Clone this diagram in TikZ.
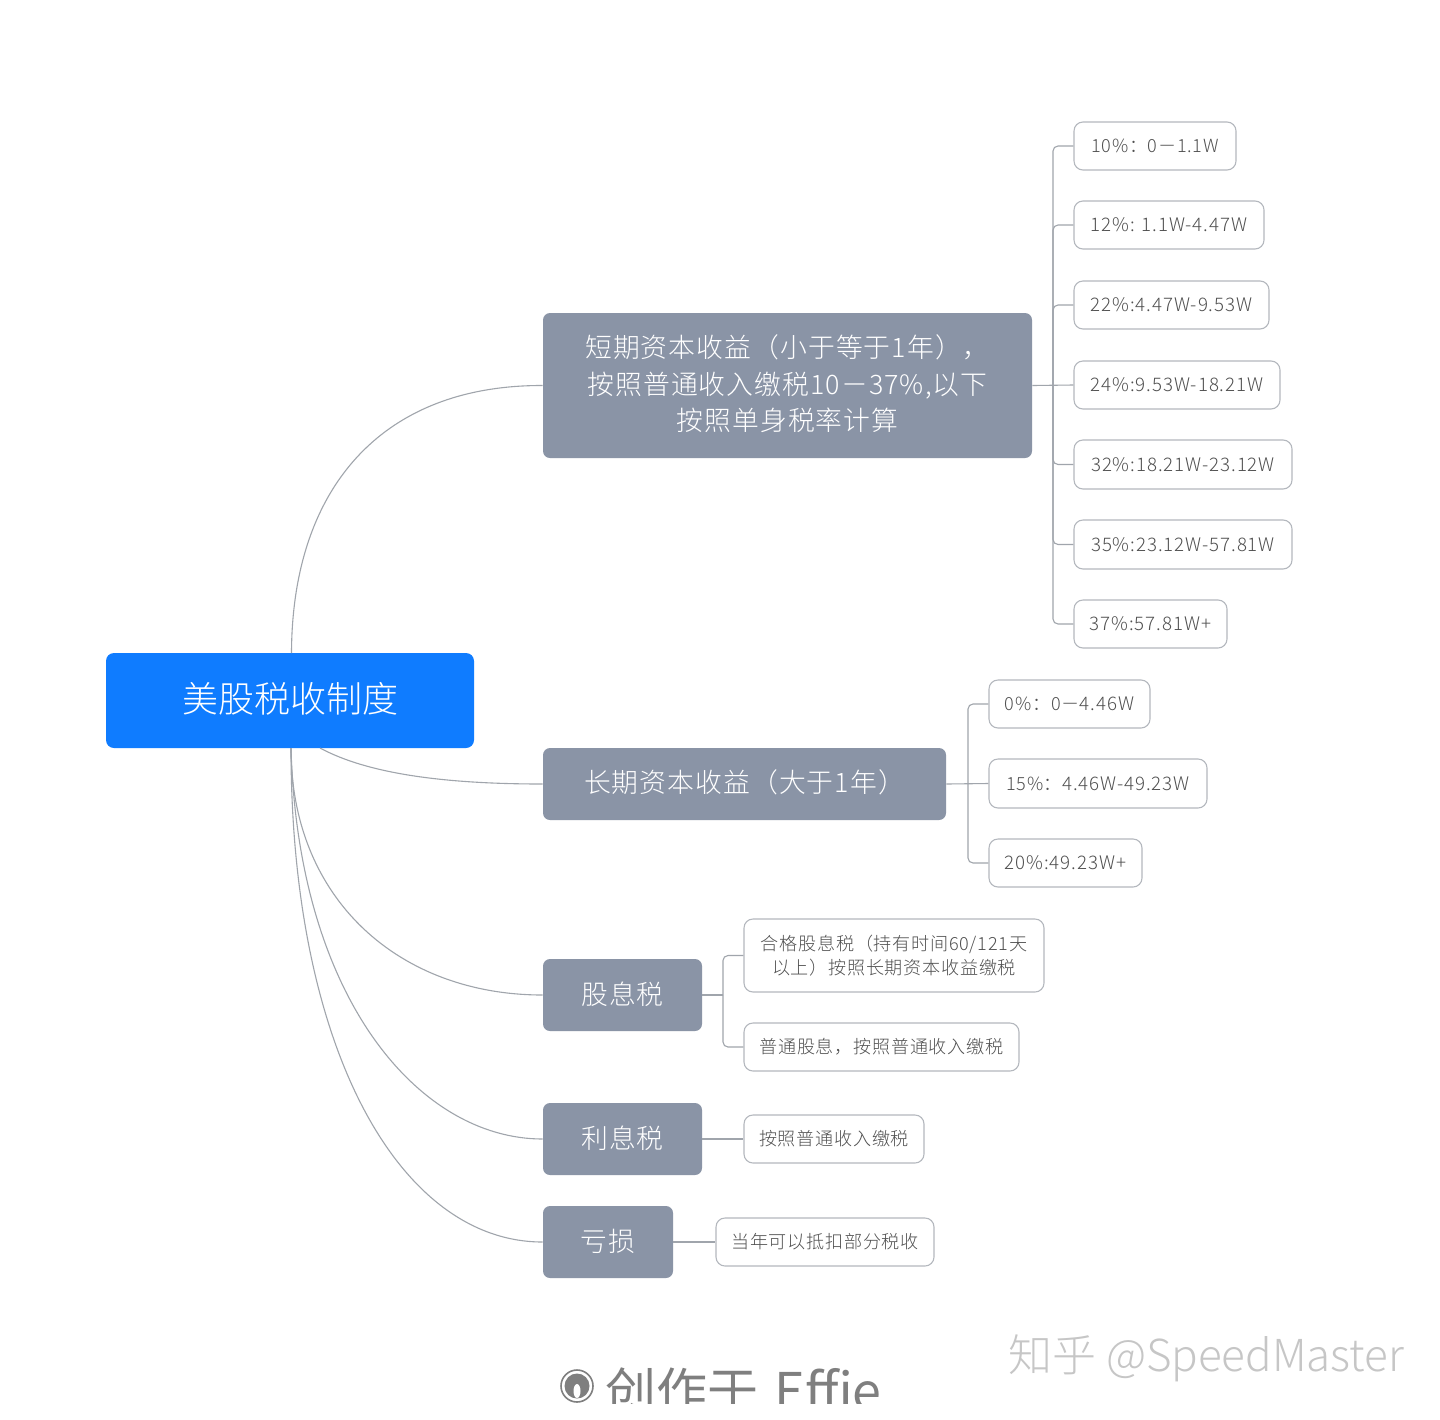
\documentclass[tikz,border=0pt]{standalone}
\usepackage{fontspec}
\setmainfont{Noto Sans CJK SC}[UprightFont=* Light,LetterSpace=4]
\newfontfamily\rootfont{Noto Sans CJK SC}[UprightFont=* Light]
\newfontfamily\markfont{Noto Sans CJK SC}[UprightFont=* Light]
\newfontfamily\effiefont{Noto Sans CJK SC}
\newfontfamily\latfont{Noto Sans CJK SC}[UprightFont=* Light,LetterSpace=5]
\definecolor{linegray}{HTML}{A0A5AC}
\definecolor{midfill}{HTML}{8A94A6}
\definecolor{rootblue}{HTML}{0F7CFF}
\definecolor{leafline}{HTML}{B4B8BE}
\definecolor{leaftext}{HTML}{505050}
\definecolor{markone}{HTML}{7F7F7F}
\definecolor{marktwo}{HTML}{C6C6C6}
\tikzset{
  x=0.5pt,y=-0.5pt,
  rootbox/.style={fill=rootblue,text=white,rounded corners=4pt,font=\rootfont\fontsize{18}{22}\selectfont},
  midbox/.style={fill=midfill,text=white,rounded corners=3.5pt,font=\fontsize{13.4}{18.4}\selectfont,align=center},
  leafbox/.style={draw=leafline,line width=0.55pt,fill=white,text=leaftext,rounded corners=4.5pt,font=\fontsize{9.05}{12.2}\selectfont,align=center},
  conn/.style={draw=linegray,line width=0.55pt},
  bracket/.style={conn,rounded corners=2.5pt},
}
\newcommand{\bx}[7]{%
  \pgfmathsetmacro{\boxw}{(#4-#2)*0.5}\pgfmathsetmacro{\boxh}{(#5-#3)*0.5}%
  \pgfmathsetmacro{\cxx}{(#2+#4)/2}\pgfmathsetmacro{\cyy}{(#3+#5)/2}%
  \node[#6,inner sep=0pt,minimum width=\boxw pt,minimum height=\boxh pt] (#1) at (\cxx,\cyy) {#7};}
\newsavebox{\inkbox}\newlength{\inkh}\newlength{\inkd}
\newcommand{\inkup}[2]{\sbox{\inkbox}{#2}\setlength{\inkh}{\ht\inkbox}\setlength{\inkd}{\dp\inkbox}\raisebox{#1}[\inkh][\inkd]{\usebox{\inkbox}}}
\newcommand{\lat}[1]{{\latfont\fontsize{9.35}{12.2}\selectfont #1}}
\begin{document}
\begin{tikzpicture}
\useasboundingbox (0,0) rectangle (1440,1419);
\fill[white] (0,0) rectangle (1440,1419);
% trunks and free ends
\coordinate (ta) at (1053,385);
\coordinate (tb) at (968,784);
\coordinate (tc) at (723,995);
\coordinate (roota) at (291.5,653);
\coordinate (rootc) at (291,748);
\coordinate (rootb) at (320,748);
\bx{root}{106}{653}{474}{748}{rootbox}{\inkup{1pt}{美股税收制度}}
\bx{A}{543}{313}{1032}{458}{midbox}{\inkup{-0.65pt}{\begin{tabular}{@{}c@{}}短期资本收益（小于等于1年），\\按照普通收入缴税10－37\%,以下\\按照单身税率计算\end{tabular}}}
\bx{B}{543}{748}{946}{820}{midbox}{\inkup{0.75pt}{长期资本收益（大于1年）}}
\bx{C}{543}{959}{702}{1031}{midbox}{\inkup{0.5pt}{股息税}}
\bx{D}{543}{1103}{702}{1175}{midbox}{\inkup{0.5pt}{利息税}}
\bx{E}{543}{1206}{673}{1278}{midbox}{\inkup{0.5pt}{亏损}}
\bx{La}{1074}{122}{1236}{170}{leafbox}{10\%：0－1.1W}
\bx{Lb}{1074}{201}{1264}{249}{leafbox}{\lat{12\%: 1.1W-4.47W}}
\bx{Lc}{1074}{281}{1269}{329}{leafbox}{\lat{22\%:4.47W-9.53W}}
\bx{Ld}{1074}{361}{1280}{409}{leafbox}{\lat{24\%:9.53W-18.21W}}
\bx{Le}{1074}{440}{1292}{489}{leafbox}{\lat{32\%:18.21W-23.12W}}
\bx{Lf}{1074}{520}{1292}{569}{leafbox}{\lat{35\%:23.12W-57.81W}}
\bx{Lg}{1074}{600}{1227}{648}{leafbox}{\lat{37\%:57.81W+}}
\bx{Ma}{989}{680}{1150}{728}{leafbox}{0\%：0－\lat{4.46W}}
\bx{Mb}{989}{759}{1207}{808}{leafbox}{15\%：\lat{4.46W-49.23W}}
\bx{Mc}{989}{839}{1142}{887}{leafbox}{\lat{20\%:49.23W+}}
\bx{Na}{744}{919}{1044}{992}{leafbox}{合格股息税（持有时间60/121天\\以上）按照长期资本收益缴税}
\bx{Nb}{744}{1023}{1019}{1071}{leafbox}{普通股息，按照普通收入缴税}
\bx{O}{744}{1115}{924}{1163}{leafbox}{按照普通收入缴税}
\bx{P}{716}{1218}{934}{1266}{leafbox}{当年可以抵扣部分税收}
% root curves
\draw[conn] (roota) .. controls (292,490) and (380,385) .. (A.west);
\draw[conn] (rootb) .. controls (370,775) and (450,784) .. (B.west);
\draw[conn] (rootc) .. controls (291,900) and (400,995) .. (C.west);
\draw[conn] (rootc) .. controls (298,1000) and (420,1139) .. (D.west);
\draw[conn] (rootc) .. controls (291,1050) and (400,1242) .. (E.west);
% brackets
\draw[conn] (A.east) -- (Ld.west);
\foreach \n in {La,Lb,Lc,Le,Lf,Lg} \draw[bracket] (\n.west) -| (ta);
\draw[conn] (B.east) -- (Mb.west);
\foreach \n in {Ma,Mc} \draw[bracket] (\n.west) -| (tb);
\draw[conn] (C.east) -- (tc);
\foreach \n in {Na,Nb} \draw[bracket] (\n.west) -| (tc);
\draw[conn] (D.east) -- (O.west);
\draw[conn] (E.east) -- (P.west);
% watermarks
\node[text=marktwo,font=\markfont\fontsize{22}{26}\selectfont,anchor=west,inner sep=0pt] (wmb) at (1008,1358) {知乎 @SpeedMaster};
\begin{scope}
\clip (540,1360) rectangle (900,1403);
\node[text=markone,font=\effiefont\fontsize{25.5}{30}\selectfont,anchor=west,inner sep=0pt] (wma) at (605,1391) {创作于\hspace{8pt}{\fontsize{26}{30}\selectfont Effie}};
\draw[markone,line width=0.8pt] (577,1386) circle [radius=16];
\fill[markone] (577,1386) circle [radius=12.5];
\fill[white] (577,1391) ellipse [x radius=3.5, y radius=7];
\end{scope}
\end{tikzpicture}
\end{document}
